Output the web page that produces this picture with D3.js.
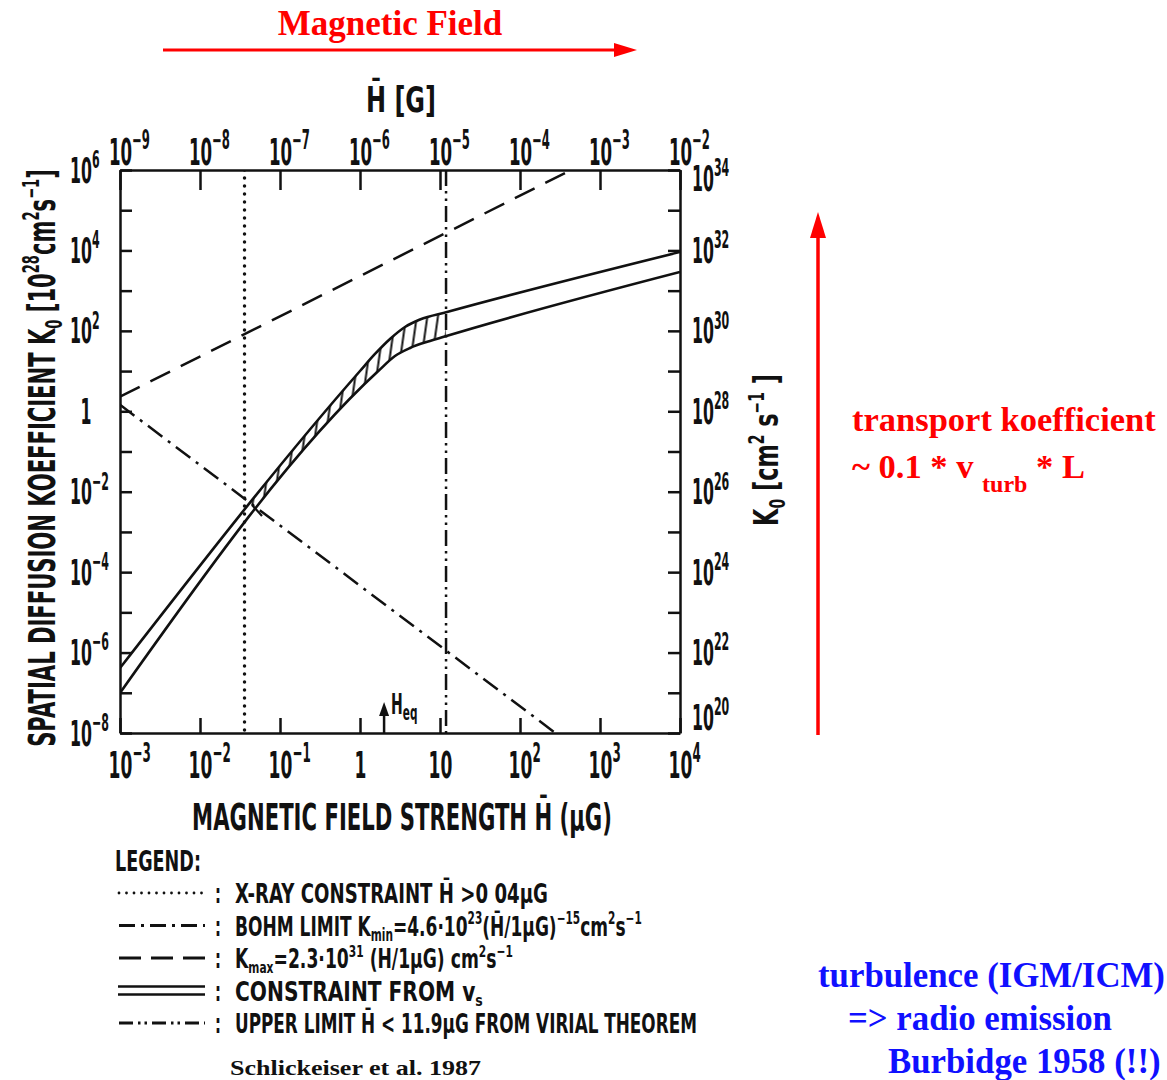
<!DOCTYPE html>
<html><head><meta charset="utf-8">
<script src="https://cdn.jsdelivr.net/npm/d3@7"></script>
<style>body{margin:0;background:#fff} svg{display:block}</style>
</head><body>
<svg id="c" width="1167" height="1080"></svg>
<script>
// ---------------- data ----------------
const bottomTicks = [1e-3, 1e-2, 1e-1, 1, 10, 1e2, 1e3, 1e4];
const bottomTickLabels = [["10","−3"],["10","−2"],["10","−1"],["1",""],["10",""],["10","2"],["10","3"],["10","4"]];
const topTicks = [1e-9, 1e-8, 1e-7, 1e-6, 1e-5, 1e-4, 1e-3, 1e-2];
const topTickLabels = [["10","−9"],["10","−8"],["10","−7"],["10","−6"],["10","−5"],["10","−4"],["10","−3"],["10","−2"]];
const leftTicks = [1e6,1e5,1e4,1e3,1e2,1e1,1,1e-1,1e-2,1e-3,1e-4,1e-5,1e-6,1e-7,1e-8];
const leftLabelExps = [6, 4, 2, 0, -2, -4, -6, -8];
const leftTickLabels = [["10","6"],["10","4"],["10","2"],["1",""],["10","−2"],["10","−4"],["10","−6"],["10","−8"]];
const rightTicks = [1e34,1e33,1e32,1e31,1e30,1e29,1e28,1e27,1e26,1e25,1e24,1e23,1e22,1e21,1e20];
const rightLabelExps = [34, 32, 30, 28, 26, 24, 22, 20];
const rightTickLabels = [["10","34"],["10","32"],["10","30"],["10","28"],["10","26"],["10","24"],["10","22"],["10","20"]];

// [H (muG), K0 (10^28 cm^2 s^-1)]
const kmaxLine = [[0.001, 2.3], [435, 1e6]];
const bohmLine = [[0.001, 1.45], [270, 1.04e-8]];
const xrayLimit = 0.036;
const virialLimit = 11.9;
const heqValue = 2;
const vsUpper = [[0.001,4.13e-7],[1,10.05],[1.54,26.6],[2.371,62.8],[3.65,124.7],[5.62,191],[12.24,294],[1e4,9140]];
const vsLower = [[0.001,9.9e-8],[1.679,9.87],[2.738,23.7],[4.217,37.5],[7.50,56.0],[10.9,70.3],[1e4,2910]];
const hatchEdge = [[0.0447,4.68e-3],[0.0596,2.49e-3]];

// ---------------- setup ----------------
const svg = d3.select("#c");
const X0 = 120, X1 = 680, Y0 = 733, Y1 = 170;
const x = d3.scaleLog().domain([1e-3, 1e4]).range([X0, X1]);
const xTop = d3.scaleLog().domain([1e-9, 1e-2]).range([X0, X1]);
const y = d3.scaleLog().domain([1e-8, 1e6]).range([Y0, Y1]);
const yRight = d3.scaleLog().domain([1e20, 1e34]).range([Y0, Y1]);
const INK = "#111";
const DIN = "'DejaVu Sans', sans-serif";
const SERIF = "'Liberation Serif', 'Times New Roman', serif";

function din(parent, o) {
  const g = parent.append("g");
  const t = g.append("text")
    .attr("font-family", o.family || DIN)
    .attr("font-weight", "bold")
    .attr("font-size", o.size)
    .attr("text-anchor", o.anchor || "start")
    .attr("fill", o.fill || INK);
  const supScale = o.supScale || 0.62;
  let shift = 0;
  o.parts.forEach(p => {
    const [s, k] = typeof p === "string" ? [p, "n"] : p;
    if (!s) return;
    const target = k === "sup" ? -0.42 * o.size : k === "sub" ? 0.2 * o.size : 0;
    const ts = t.append("tspan").text(s);
    if (target - shift !== 0) ts.attr("dy", target - shift);
    if (k !== "n") ts.attr("font-size", o.size * supScale);
    shift = target;
  });
  let sx = o.sx || 1;
  if (o.width) sx = o.width / t.node().getComputedTextLength();
  let dx = 0;
  if (o.centerFirst) {
    dx = -t.node().getSubStringLength(0, o.centerFirst) * sx / 2;
  }
  g.attr("transform", `translate(${o.x + dx},${o.y}) rotate(${o.rotate || 0}) scale(${sx},1)`);
  return g;
}

const defs = svg.append("defs");
defs.append("clipPath").attr("id", "plotClip").append("rect")
  .attr("x", X0).attr("y", Y1).attr("width", X1 - X0).attr("height", Y0 - Y1);

const line = d3.line().x(d => x(d[0])).y(d => y(d[1])).curve(d3.curveMonotoneX);
const straight = d3.line().x(d => x(d[0])).y(d => y(d[1]));

defs.append("clipPath").attr("id", "underUpper").append("path")
  .attr("d", line(vsUpper) + `L${X1},${Y0}L${X0},${Y0}Z`);
defs.append("clipPath").attr("id", "aboveLower").append("path")
  .attr("d", line(vsLower) + `L${X1},${Y1}L${X0},${Y1}Z`);
{
  const p1 = [x(hatchEdge[0][0]), y(hatchEdge[0][1])];
  const p2 = [x(hatchEdge[1][0]), y(hatchEdge[1][1])];
  const dxv = p2[0] - p1[0], dyv = p2[1] - p1[1];
  const a = [p1[0] - 6 * dxv, p1[1] - 6 * dyv], b = [p2[0] + 6 * dxv, p2[1] + 6 * dyv];
  const xv = x(virialLimit);
  defs.append("clipPath").attr("id", "hatchX").append("path")
    .attr("d", `M${a[0]},${a[1]}L${b[0]},${b[1]}L${xv},${b[1]}L${xv},${a[1] - 300}L${a[0]},${a[1] - 300}Z`);
}
const pat = defs.append("pattern").attr("id", "hatch").attr("patternUnits", "userSpaceOnUse")
  .attr("width", 10.5).attr("height", 10.5).attr("patternTransform", "rotate(8)");
pat.append("line").attr("x1", 5.25).attr("y1", -1).attr("x2", 5.25).attr("y2", 11.5)
  .attr("stroke", INK).attr("stroke-width", 2);

// ---------------- marks ----------------
const plot = svg.append("g").attr("clip-path", "url(#plotClip)");

// hatch
plot.append("g").attr("clip-path", "url(#underUpper)")
  .append("g").attr("clip-path", "url(#aboveLower)")
  .append("g").attr("clip-path", "url(#hatchX)")
  .append("rect").attr("x", X0).attr("y", Y1).attr("width", X1 - X0).attr("height", Y0 - Y1)
  .attr("fill", "url(#hatch)");

// Kmax dashed
plot.append("path").attr("d", straight(kmaxLine)).attr("fill", "none")
  .attr("stroke", INK).attr("stroke-width", 2.5).attr("stroke-dasharray", "22,12");
// Bohm dash-dot
plot.append("path").attr("d", straight(bohmLine)).attr("fill", "none")
  .attr("stroke", INK).attr("stroke-width", 2.5).attr("stroke-dasharray", "18,7,3,7");
// x-ray dotted
plot.append("line").attr("x1", x(xrayLimit)).attr("x2", x(xrayLimit)).attr("y1", Y1).attr("y2", Y0)
  .attr("stroke", INK).attr("stroke-width", 3.5).attr("stroke-linecap", "round").attr("stroke-dasharray", "0,8");
// virial dash-dot-dot
plot.append("line").attr("x1", x(virialLimit)).attr("x2", x(virialLimit)).attr("y1", Y1).attr("y2", Y0)
  .attr("stroke", INK).attr("stroke-width", 2.5).attr("stroke-dasharray", "16,5,2.5,5,2.5,5");
// v_s constraint band
[vsUpper, vsLower].forEach(s => plot.append("path").attr("d", line(s)).attr("fill", "none")
  .attr("stroke", INK).attr("stroke-width", 2.6));
plot.append("path").attr("d", straight(hatchEdge)).attr("stroke", INK).attr("stroke-width", 2.2);

// H_eq arrow
{
  const hx = x(heqValue);
  svg.append("line").attr("x1", hx).attr("x2", hx).attr("y1", Y0).attr("y2", Y0 - 20)
    .attr("stroke", INK).attr("stroke-width", 2.5);
  svg.append("path").attr("d", `M${hx},${Y0 - 31}L${hx - 5},${Y0 - 17}L${hx + 5},${Y0 - 17}Z`).attr("fill", INK);
  din(svg, { x: hx + 7, y: Y0 - 19, size: 28, sx: 0.5, supScale: 0.75, parts: ["H", ["eq", "sub"]] });
}

// ---------------- axes ----------------
function styleAxis(g) {
  g.select(".domain").attr("stroke", INK).attr("stroke-width", 2.5);
  g.selectAll(".tick line").attr("stroke", INK).attr("stroke-width", 2.5);
  g.selectAll(".tick text").remove();
}
const gB = svg.append("g").attr("transform", `translate(0,${Y0})`)
  .call(d3.axisBottom(x).tickValues(bottomTicks).tickSize(-15).tickSizeOuter(0).tickFormat(() => ""));
styleAxis(gB);
gB.selectAll(".tick").each(function (d, i) {
  const [m, e] = bottomTickLabels[i];
  din(d3.select(this), e ? { x: 0, y: 45, size: 38, sx: 0.45, supScale: 0.7, centerFirst: m.length, parts: [m, [e, "sup"]] }
                          : { x: 0, y: 45, size: 38, sx: 0.45, anchor: "middle", parts: [m] });
});

const gT = svg.append("g").attr("transform", `translate(0,${Y1})`)
  .call(d3.axisTop(xTop).tickValues(topTicks).tickSize(-20).tickSizeOuter(0).tickFormat(() => ""));
styleAxis(gT);
gT.selectAll(".tick").each(function (d, i) {
  const [m, e] = topTickLabels[i];
  din(d3.select(this), { x: 0, y: -5, size: 37, sx: 0.45, supScale: 0.7, centerFirst: m.length, parts: [m, [e, "sup"]] });
});

const gL = svg.append("g").attr("transform", `translate(${X0},0)`)
  .call(d3.axisLeft(y).tickValues(leftTicks).tickSize(-12).tickSizeOuter(0).tickFormat(() => ""));
styleAxis(gL);
gL.selectAll(".tick").each(function (d) {
  const i = leftLabelExps.indexOf(Math.round(Math.log10(d)));
  if (i < 0) return;
  const [m, e] = leftTickLabels[i];
  din(d3.select(this), e ? { x: -50, y: 12, size: 35, sx: 0.45, supScale: 0.7, parts: [m, [e, "sup"]] }
                          : { x: -34, y: 12, size: 35, sx: 0.45, anchor: "middle", parts: [m] });
});

const gR = svg.append("g").attr("transform", `translate(${X1},0)`)
  .call(d3.axisRight(yRight).tickValues(rightTicks).tickSize(-12).tickSizeOuter(0).tickFormat(() => ""));
styleAxis(gR);
gR.selectAll(".tick").each(function (d) {
  const ex = Math.round(Math.log10(d));
  const i = rightLabelExps.indexOf(ex);
  if (i < 0) return;
  const [m, e] = rightTickLabels[i];
  const off = ex === 34 ? 8 : ex === 20 ? -16 : 0;
  din(d3.select(this), { x: 12, y: 12 + off, size: 35, sx: 0.45, supScale: 0.7, parts: [m, [e, "sup"]] });
});

// axis titles
din(svg, { x: 402, y: 830, size: 38, width: 420, anchor: "middle",
  parts: ["MAGNETIC FIELD STRENGTH H\u0304 (μG)"] });
din(svg, { x: 401, y: 112, size: 36, width: 70, anchor: "middle", parts: ["H\u0304  [G]"] });
din(svg, { x: 55, y: 458, size: 37, width: 578, anchor: "middle", rotate: -90,
  parts: ["SPATIAL DIFFUSION KOEFFICIENT K", ["0", "sub"], " [10", ["28", "sup"], "cm", ["2", "sup"], "s", ["−1", "sup"], "]"] });
din(svg, { x: 778, y: 450, size: 34, width: 152, anchor: "middle", rotate: -90,
  parts: ["K", ["0", "sub"], " [cm", ["2", "sup"], " s", ["−1", "sup"], " ]"] });

// ---------------- legend ----------------
const legendRows = [
  { dash: "0,7.5", cap: "round", w: 2.8, parts: ["X-RAY CONSTRAINT H\u0304 >0 04μG"], width: 313 },
  { dash: "16,6,3,6", cap: "butt", w: 3, parts: ["BOHM LIMIT K", ["min", "sub"], "=4.6·10", ["23", "sup"], "(H\u0304/1μG)", ["−15", "sup"], "cm", ["2", "sup"], "s", ["−1", "sup"]], width: 407 },
  { dash: "22,10", cap: "butt", w: 3, parts: ["K", ["max", "sub"], "=2.3·10", ["31", "sup"], " (H/1μG) cm", ["2", "sup"], "s", ["−1", "sup"]], width: 278 },
  { double: true, parts: ["CONSTRAINT FROM v", ["s", "sub"]], width: 248 },
  { dash: "14,5,2.5,4,2.5,5", cap: "butt", w: 3, parts: ["UPPER LIMIT H\u0304 < 11.9μG FROM VIRIAL THEOREM"], width: 462 }
];
din(svg, { x: 115, y: 871, size: 28, width: 86, parts: ["LEGEND:"] });
legendRows.forEach((r, i) => {
  const by = 903 + i * 32.5;
  const my = by - 10;
  if (r.double) {
    [-4, 4].forEach(o => svg.append("line").attr("x1", 118).attr("x2", 205).attr("y1", my + o).attr("y2", my + o)
      .attr("stroke", INK).attr("stroke-width", 2.6));
  } else {
    svg.append("line").attr("x1", 119).attr("x2", 205).attr("y1", my).attr("y2", my)
      .attr("stroke", INK).attr("stroke-width", r.w).attr("stroke-dasharray", r.dash).attr("stroke-linecap", r.cap);
  }
  din(svg, { x: 218, y: by, size: 27, sx: 0.55, anchor: "middle", parts: [":"] });
  din(svg, { x: 235, y: by, size: 27, width: r.width, parts: r.parts });
});

// ---------------- annotations ----------------
const RED = "#ff0000", BLUE = "#1010ff";
svg.append("text").attr("x", 390).attr("y", 35).attr("text-anchor", "middle")
  .attr("font-family", SERIF).attr("font-weight", "bold").attr("font-size", 35).attr("fill", RED)
  .text("Magnetic Field");
svg.append("line").attr("x1", 163).attr("x2", 620).attr("y1", 50).attr("y2", 50).attr("stroke", RED).attr("stroke-width", 3);
svg.append("path").attr("d", "M637,50L614,43L614,57Z").attr("fill", RED);
svg.append("line").attr("x1", 818).attr("x2", 818).attr("y1", 735).attr("y2", 232).attr("stroke", RED).attr("stroke-width", 3.5);
svg.append("path").attr("d", "M818,212L810,238L826,238Z").attr("fill", RED);

svg.append("text").attr("x", 852).attr("y", 431)
  .attr("font-family", SERIF).attr("font-weight", "bold").attr("font-size", 34.5).attr("fill", RED)
  .text("transport koefficient");
{
  const t = svg.append("text").attr("x", 852).attr("y", 478)
    .attr("font-family", SERIF).attr("font-weight", "bold").attr("font-size", 34.5).attr("fill", RED);
  t.append("tspan").text("~ 0.1 * v ");
  t.append("tspan").attr("dy", 14).attr("font-size", 24).text("turb");
  t.append("tspan").attr("dy", -14).text(" * L");
}
[["turbulence (IGM/ICM)", 818, 987], ["=> radio emission", 848, 1030], ["Burbidge 1958 (!!)", 888, 1073]]
  .forEach(([s, tx, ty]) => svg.append("text").attr("x", tx).attr("y", ty)
    .attr("font-family", SERIF).attr("font-weight", "bold").attr("font-size", 34.8).attr("fill", BLUE).text(s));
svg.append("text").attr("x", 230).attr("y", 1075)
  .attr("font-family", SERIF).attr("font-weight", "bold").attr("font-size", 22).attr("fill", INK)
  .attr("textLength", 251).attr("lengthAdjust", "spacingAndGlyphs")
  .text("Schlickeiser et al. 1987");
</script>
</body></html>
